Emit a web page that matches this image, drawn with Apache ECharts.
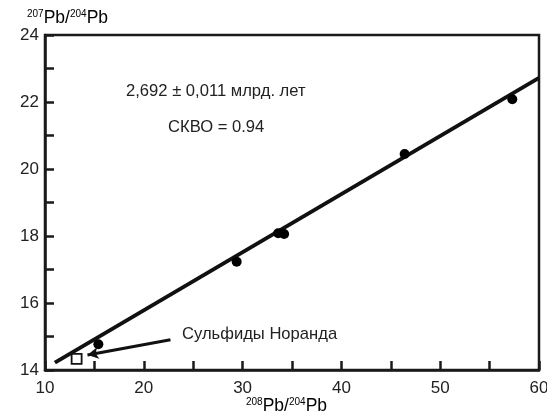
<!DOCTYPE html>
<html><head><meta charset="utf-8">
<script src="https://cdn.jsdelivr.net/npm/echarts@6/dist/echarts.min.js"></script>
<style>html,body{margin:0;padding:0;background:#fff}#c{width:547px;height:419px}</style>
</head><body><div id="c"></div>
<script>
// Data
const sampleX = [15.4, 29.4, 33.6, 34.2, 46.4, 57.3];
const sampleY = [14.77, 17.23, 18.08, 18.06, 20.45, 22.08];
const noranda = [[13.2, 14.33]];
const isochronX = [11.0, 60.0];
const isochronY = [14.22, 22.72];
const arrowFrom = [22.7, 14.9];
const arrowTo = [14.3, 14.45];
const xTicks = [10, 20, 30, 40, 50, 60];
const yTicks = [14, 16, 18, 20, 22, 24];
const ageText = '2,692 ± 0,011 млрд. лет';
const mswdText = 'СКВО = 0.94';
const norandaLabel = 'Сульфиды Норанда';

const font = 'Liberation Sans, Arial, sans-serif';
const chart = echarts.init(document.getElementById('c'));
const axisBase = {
  axisLine: {show: true, onZero: false, lineStyle: {color: '#1a1a1a', width: 2.5}},
  axisTick: {show: true, inside: true, length: 9, lineStyle: {color: '#1a1a1a', width: 2.5}},
  splitLine: {show: false}
};
const rich = {
  sup: {fontSize: 10, fontFamily: font, color: '#222', verticalAlign: 'top', padding: [0,0,8,0]},
  n: {fontSize: 17.5, fontFamily: font, color: '#222'}
};
chart.setOption({
  animation: false,
  backgroundColor: '#fff',
  grid: {left: 45, right: 8, top: 35, bottom: 49, show: true, borderColor: '#1a1a1a', borderWidth: 2.5,
    outerBoundsMode: 'none', containLabel: false},
  xAxis: Object.assign({
    type: 'value', min: 10, max: 60, interval: 5,
    axisLabel: {fontSize: 17, fontFamily: font, color: '#222', margin: 10,
      formatter: v => xTicks.includes(v) ? String(v) : ''}
  }, axisBase),
  yAxis: Object.assign({
    type: 'value', min: 14, max: 24, interval: 1,
    axisLabel: {fontSize: 17, fontFamily: font, color: '#222', margin: 6,
      formatter: v => yTicks.includes(v) ? String(v) : ''}
  }, axisBase),
  graphic: [
    {type: 'text', left: 27, top: 9, style: {text: '{sup|207}{n|Pb/}{sup|204}{n|Pb}', rich: rich}},
    {type: 'text', left: 246, top: 397, style: {text: '{sup|208}{n|Pb/}{sup|204}{n|Pb}', rich: rich}},
    {type: 'text', left: 126, top: 83, style: {text: ageText, fontSize: 16.6, fontFamily: font, fill: '#222'}},
    {type: 'text', left: 168, top: 119, style: {text: mswdText, fontSize: 16.6, fontFamily: font, fill: '#222'}},
    {type: 'text', left: 182, top: 326, style: {text: norandaLabel, fontSize: 16.6, fontFamily: font, fill: '#222'}}
  ],
  series: [
    {
      type: 'line', data: isochronX.map((x, i) => [x, isochronY[i]]),
      symbol: 'none', lineStyle: {color: '#111', width: 4}, z: 3,
      markLine: {
        silent: true, symbol: ['none', 'arrow'], symbolSize: [9, 11],
        lineStyle: {color: '#111', width: 3, type: 'solid'},
        label: {show: false},
        data: [[{coord: arrowFrom}, {coord: arrowTo}]]
      }
    },
    {
      type: 'scatter', data: sampleX.map((x, i) => [x, sampleY[i]]),
      symbol: 'circle', symbolSize: 10, itemStyle: {color: '#000', opacity: 1}, z: 4
    },
    {
      type: 'scatter', data: noranda,
      symbol: 'rect', symbolSize: 10, itemStyle: {color: '#fff', borderColor: '#111', borderWidth: 1.8, opacity: 1}, z: 5
    }
  ]
});
</script></body></html>
